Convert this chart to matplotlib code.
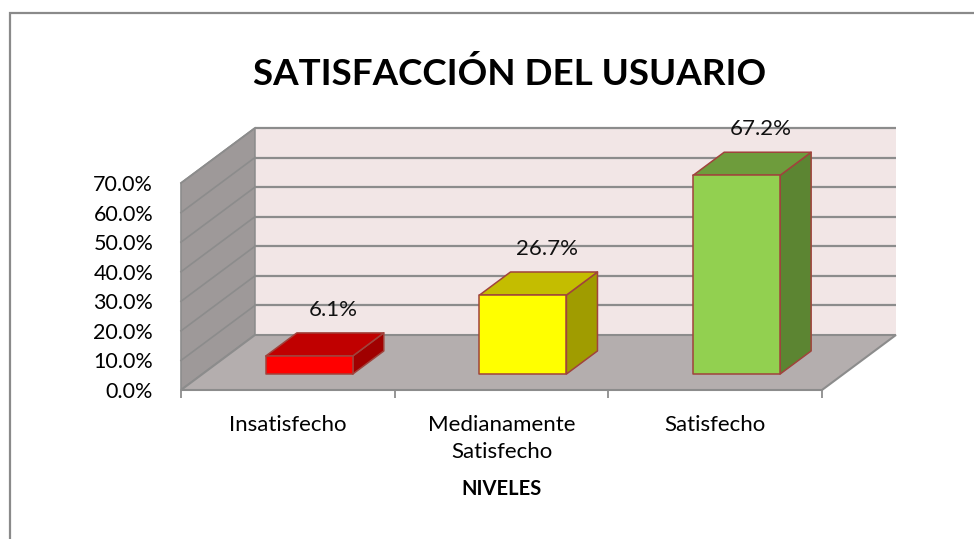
import numpy as np
import matplotlib
matplotlib.use("Agg")
import matplotlib.pyplot as plt
from matplotlib.patches import Polygon, Rectangle
from matplotlib.ticker import PercentFormatter

categories = ["Insatisfecho", "Medianamente\nSatisfecho", "Satisfecho"]
values = [6.1, 26.7, 67.2]
value_labels = ["6.1%", "26.7%", "67.2%"]
yticks = [0, 10, 20, 30, 40, 50, 60, 70]

front_colors = ["#FF0000", "#FFFF00", "#92D050"]
top_colors = ["#C00000", "#C4BD00", "#6E9C3C"]
side_colors = ["#A00000", "#A09C00", "#5C8532"]

plt.rcParams["font.family"] = ["Lato", "DejaVu Sans"]

fig = plt.figure(figsize=(9.74, 5.39), dpi=100)
ax = fig.add_axes([181 / 974, 149 / 539, 641 / 974, 207 / 539])
ax.set_xlim(0, 3)
ax.set_ylim(0, 70)

# oblique depth of the pseudo-3D box (data units)
DX, DY = 0.346, 18.6
d0, d1 = 0.29, 0.71
bw = 0.407
grid_c = "#8C8C8C"

ax.add_patch(Polygon([(DX, DY), (3 + DX, DY), (3 + DX, 70 + DY), (DX, 70 + DY)],
                     fc="#F2E6E6", ec="none", clip_on=False, zorder=1))
ax.add_patch(Polygon([(0, 0), (DX, DY), (DX, 70 + DY), (0, 70)],
                     fc="#9E9999", ec=grid_c, lw=1.2, clip_on=False, zorder=1))
ax.add_patch(Polygon([(0, 0), (3, 0), (3 + DX, DY), (DX, DY)],
                     fc="#B4AEAE", ec=grid_c, lw=1.5, clip_on=False, zorder=1))
for y in yticks[1:]:
    ax.plot([DX, 3 + DX], [y + DY, y + DY], color=grid_c, lw=1.6,
            clip_on=False, zorder=2, solid_capstyle="butt")
    ax.plot([0, DX], [y, y + DY], color=grid_c, lw=1.2, clip_on=False, zorder=2)

for i, v in enumerate(values):
    x0 = i + 0.5 - bw / 2 + d0 * DX
    y0 = d0 * DY
    ddx, ddy = (d1 - d0) * DX, (d1 - d0) * DY
    kw = dict(ec="#A0433C", lw=1.1, clip_on=False, zorder=3, joinstyle="round")
    ax.add_patch(Polygon([(x0 + bw, y0), (x0 + bw + ddx, y0 + ddy),
                          (x0 + bw + ddx, y0 + v + ddy), (x0 + bw, y0 + v)],
                         fc=side_colors[i], **kw))
    ax.add_patch(Polygon([(x0, y0 + v), (x0 + bw, y0 + v),
                          (x0 + bw + ddx, y0 + v + ddy), (x0 + ddx, y0 + v + ddy)],
                         fc=top_colors[i], **kw))
    ax.add_patch(Rectangle((x0, y0), bw, v, fc=front_colors[i], **kw))
    ax.text(i + 0.5 + 0.62 * DX, v + d1 * DY + 7.8, value_labels[i],
            ha="center", va="center", fontsize=16, color="#111111", zorder=4)

for s in ax.spines.values():
    s.set_visible(False)
ax.set_facecolor("none")
ax.set_yticks(yticks)
ax.yaxis.set_major_formatter(PercentFormatter(decimals=1))
ax.tick_params(axis="y", length=0, pad=20, labelsize=15.5)
ax.set_xticks([0.5, 1.5, 2.5], categories)
for t in ax.get_xticklabels():
    t.set_linespacing(1.45)
ax.set_xticks([0, 1, 2, 3], minor=True)
ax.tick_params(axis="x", which="major", length=0, pad=18, labelsize=16)
ax.tick_params(axis="x", which="minor", length=6, width=1.3, color=grid_c)
ax.set_xlabel("NIVELES", fontweight="bold", fontsize=14.5, labelpad=12)

fig.text(510 / 974, 1 - 74 / 539, "SATISFACCIÓN DEL USUARIO", ha="center",
         va="center", fontsize=26.5, fontweight="bold")
fig.patches.append(Rectangle((10 / 974, -0.1), 1.2, 1.1 - 13 / 539,
                             transform=fig.transFigure, fill=False,
                             ec="#8A8A8A", lw=1.6))

fig.savefig("out.png", dpi=100)
